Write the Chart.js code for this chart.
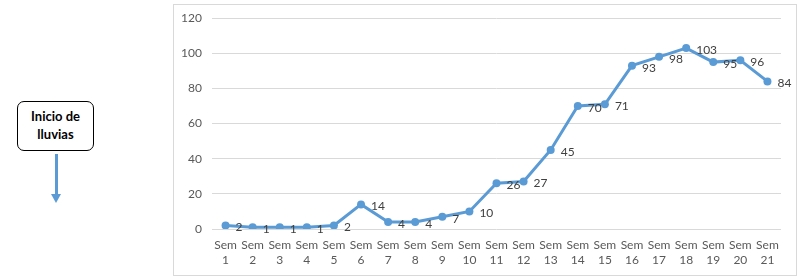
<!DOCTYPE html>
<html>
<head>
<meta charset="utf-8">
<script src="https://cdn.jsdelivr.net/npm/chart.js@4"></script>
<style>
  body { margin: 0; width: 800px; height: 280px; background: #fff; position: relative; font-family: Lato, sans-serif; overflow: hidden; }
  #frame { position: absolute; left: 173px; top: 4px; width: 624px; height: 272px; border: 1px solid #d9d9d9; box-sizing: border-box; }
  #chart { position: absolute; left: 0; top: -4px; }
  #note { position: absolute; left: 17px; top: 101px; width: 77px; height: 50px; box-sizing: border-box;
          border: 1.5px solid #000; border-radius: 7px; text-align: center; font-weight: bold; font-size: 13px;
          line-height: 18px; padding-top: 5px; color: #000; }
  #shaft { position: absolute; left: 55px; top: 154px; width: 3px; height: 41px; background: #5b9bd5; }
  #head { position: absolute; left: 51px; top: 194px; width: 0; height: 0;
          border-left: 5.5px solid transparent; border-right: 5.5px solid transparent; border-top: 9px solid #5b9bd5; }
</style>
</head>
<body>
<div id="note">Inicio de<br>lluvias</div>
<div id="shaft"></div>
<div id="head"></div>
<div id="frame"><canvas id="chart" width="622" height="274"></canvas></div>
<script>
var weeks = ["1","2","3","4","5","6","7","8","9","10","11","12","13","14","15","16","17","18","19","20","21"];
var cases = [2, 1, 1, 1, 2, 14, 4, 4, 7, 10, 26, 27, 45, 70, 71, 93, 98, 103, 95, 96, 84];
var yTicks = [0, 20, 40, 60, 80, 100, 120];

// values written to the right of each point
var pointLabels = {
    id: 'pointLabels',
    afterDatasetsDraw: function(chart) {
        var ctx = chart.ctx;
        var meta = chart.getDatasetMeta(0);
        ctx.save();
        ctx.font = '12px Lato';
        ctx.fillStyle = '#404040';
        ctx.textAlign = 'left';
        ctx.textBaseline = 'middle';
        meta.data.forEach(function(pt, i) {
            ctx.fillText(cases[i], pt.x + 10, pt.y + 2);
        });
        ctx.restore();
    }
};

var ctx = document.getElementById('chart').getContext('2d');
var chart = new Chart(ctx, {
    type: 'line',
    data: {
        labels: weeks.map(function(w) { return ['Sem', w]; }),
        datasets: [{
            data: cases,
            borderColor: '#5b9bd5',
            backgroundColor: '#5b9bd5',
            borderWidth: 3,
            pointRadius: 4,
            pointBorderWidth: 0,
            tension: 0
        }]
    },
    options: {
        responsive: false,
        animation: false,
        layout: { padding: { top: 6, right: 15, left: 0, bottom: 0 } },
        plugins: { legend: { display: false }, tooltip: { enabled: false } },
        scales: {
            x: {
                offset: true,
                grid: { display: false, drawTicks: false },
                border: { display: false },
                ticks: { color: '#595959', font: { family: 'Lato', size: 12, lineHeight: 1.25 }, padding: 9, maxRotation: 0, autoSkip: false },
                afterFit: function(s) { s.height = 46; }
            },
            y: {
                min: 0,
                max: 120,
                afterBuildTicks: function(s) { s.ticks = yTicks.map(function(v) { return { value: v }; }); },
                grid: { color: '#d9d9d9', drawTicks: false },
                border: { display: false },
                ticks: { color: '#595959', font: { family: 'Lato', size: 12 }, padding: 10 },
                afterFit: function(s) { s.width = 38; }
            }
        }
    },
    plugins: [pointLabels]
});
</script>
</body>
</html>
